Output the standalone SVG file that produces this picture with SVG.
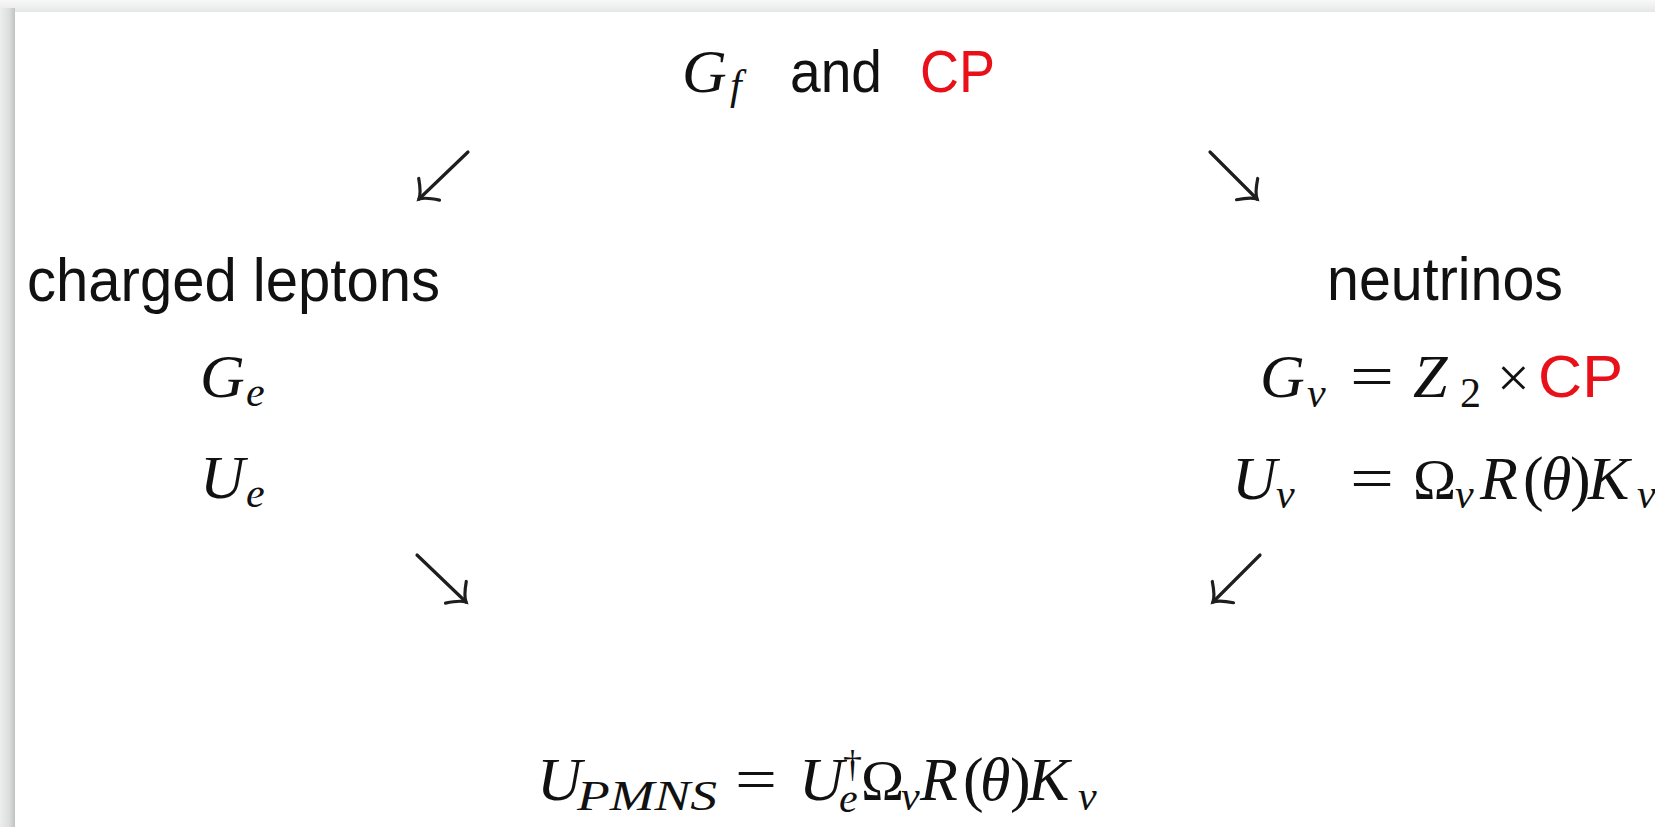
<svg xmlns="http://www.w3.org/2000/svg" width="1655" height="827" viewBox="0 0 1655 827">
  <defs>
    <linearGradient id="gTop" x1="0" y1="0" x2="0" y2="1">
      <stop offset="0" stop-color="#f8f8f8"/>
      <stop offset="1" stop-color="#e4e6e5"/>
    </linearGradient>
    <linearGradient id="gLeft" x1="0" y1="0" x2="1" y2="0">
      <stop offset="0" stop-color="#eceeed"/>
      <stop offset="0.6" stop-color="#dcdfdd"/>
      <stop offset="1" stop-color="#bfc3c1"/>
    </linearGradient>
    <marker id="hook" markerUnits="userSpaceOnUse" markerWidth="40" markerHeight="40" viewBox="-25 -20 30 40" refX="0" refY="0" orient="auto">
      <path d="M -14,-15 Q -6,-3 0,0 Q -6,3 -14,15" fill="none" stroke="#1e1e1e" stroke-width="3.2" stroke-linecap="round"/>
    </marker>
    <style>
      .sans { font-family: "Liberation Sans", Arial, sans-serif; fill: #111; }
      .math { font-family: "Liberation Serif", "Times New Roman", serif; font-size: 62px; fill: #111; }
      .i { font-style: italic; }
      .up { font-style: normal; }
      .sub { font-size: 42px; }
      .red { fill: #e8111a; }
      .arrow { fill: none; stroke: #1e1e1e; stroke-width: 3.2; stroke-linecap: round; marker-end: url(#hook); }
    </style>
  </defs>

  <rect x="0" y="0" width="1655" height="827" fill="#f0f1f0"/>
  <rect x="0" y="0" width="1655" height="13" fill="url(#gTop)"/>
  <rect x="0" y="8" width="15" height="819" fill="url(#gLeft)"/>
  <rect x="15" y="12" width="1640" height="815" fill="#ffffff"/>

  <g id="top">
    <text class="math i"><tspan x="682" y="92">G</tspan><tspan class="sub" x="730" y="99">f</tspan></text>
    <text class="sans" x="790" y="92" font-size="60" textLength="92" lengthAdjust="spacingAndGlyphs">and</text>
    <text class="sans red" x="920" y="92" font-size="59" textLength="75" lengthAdjust="spacingAndGlyphs">CP</text>
  </g>

  <g id="charged-leptons">
    <text class="sans" x="27" y="301" font-size="62" textLength="413" lengthAdjust="spacingAndGlyphs">charged leptons</text>
    <text class="math i"><tspan x="200" y="397">G</tspan><tspan class="sub" x="246" y="406">e</tspan></text>
    <text class="math i"><tspan x="200" y="498">U</tspan><tspan class="sub" x="246" y="507">e</tspan></text>
  </g>

  <g id="neutrinos">
    <text class="sans" x="1327" y="300" font-size="62" textLength="236" lengthAdjust="spacingAndGlyphs">neutrinos</text>
    <text class="math"><tspan class="i" x="1260" y="397">G</tspan><tspan class="i sub" x="1307" y="407">ν</tspan></text>
    <text class="math up" x="1350" y="397" textLength="44" lengthAdjust="spacingAndGlyphs">=</text>
    <text class="math"><tspan class="i" x="1413" y="397">Z</tspan><tspan class="up sub" x="1460" y="407">2</tspan><tspan class="up" x="1497" y="397" font-size="58">×</tspan></text>
    <text class="sans red" x="1538" y="397" font-size="60" textLength="85" lengthAdjust="spacingAndGlyphs">CP</text>
    <text class="math"><tspan class="i" x="1232" y="499">U</tspan><tspan class="i sub" x="1276" y="508">ν</tspan></text>
    <text class="math up" x="1350" y="499" textLength="44" lengthAdjust="spacingAndGlyphs">=</text>
    <text class="math"><tspan class="up" x="1413" y="499" font-size="58">Ω</tspan><tspan class="i sub" x="1455" y="508">ν</tspan><tspan class="i" x="1480" y="499">R</tspan><tspan class="up" x="1523" y="499">(</tspan><tspan class="i" x="1541" y="499">θ</tspan><tspan class="up" x="1570" y="499">)</tspan><tspan class="i" x="1588" y="499">K</tspan><tspan class="i sub" x="1637" y="508">ν</tspan></text>
  </g>

  <g id="pmns">
    <text class="math"><tspan class="i" x="537" y="800">U</tspan><tspan class="i sub" x="577" y="810" font-size="46" textLength="140" lengthAdjust="spacingAndGlyphs">PMNS</tspan></text>
    <text class="math up" x="735" y="800" textLength="42" lengthAdjust="spacingAndGlyphs">=</text>
    <text class="math"><tspan class="i" x="799" y="800">U</tspan><tspan class="up" x="843" y="777" font-size="38">†</tspan><tspan class="i sub" x="839" y="812">e</tspan><tspan class="up" x="861" y="800" font-size="58">Ω</tspan><tspan class="i sub" x="901" y="810">ν</tspan><tspan class="i" x="920" y="800">R</tspan><tspan class="up" x="963" y="800">(</tspan><tspan class="i" x="980" y="800">θ</tspan><tspan class="up" x="1010" y="800">)</tspan><tspan class="i" x="1028" y="800">K</tspan><tspan class="i sub" x="1078" y="810">ν</tspan></text>
  </g>

  <g id="connectors">
    <path class="arrow" d="M 468,152 L 419,199"/>
    <path class="arrow" d="M 1210,152 L 1257,199"/>
    <path class="arrow" d="M 417,555 L 466,602"/>
    <path class="arrow" d="M 1260,555 L 1213,602"/>
  </g>
</svg>
